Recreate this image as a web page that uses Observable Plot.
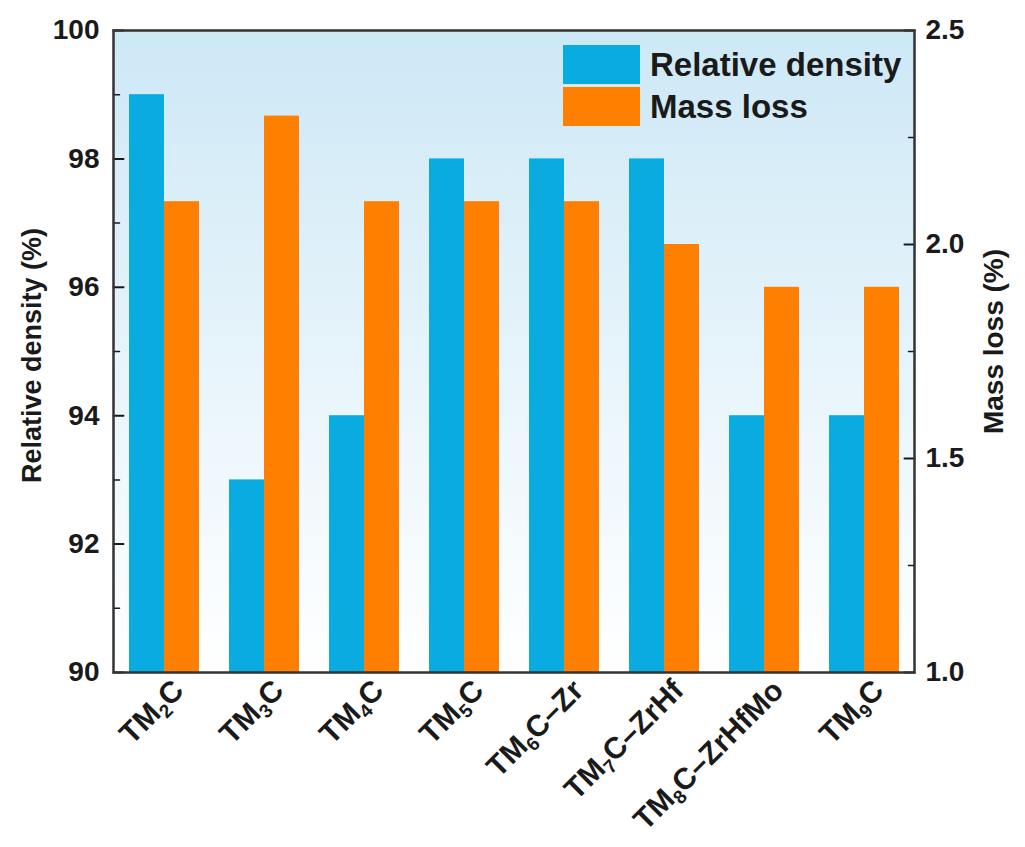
<!DOCTYPE html>
<html>
<head>
<meta charset="utf-8">
<script src="https://cdn.jsdelivr.net/npm/d3@7"></script>
<script src="https://cdn.jsdelivr.net/npm/@observablehq/plot@0.6"></script>
<style>
  html, body { margin: 0; padding: 0; background: #fff; }
  #wrap { position: relative; width: 1025px; height: 847px; font-family: "Liberation Sans", Arial, sans-serif; font-weight: bold; color: #1a1a1a; }
  .legend { position: absolute; left: 563px; top: 43px; }
  .legend .row { display: flex; align-items: center; height: 42px; }
  .legend .sw { width: 77px; height: 39px; margin-right: 10px; }
  .legend .lab { font-size: 33px; line-height: 1; }
</style>
</head>
<body>
<div id="wrap"></div>
<script>
// ---- data ----
const categories = ["TM₂C", "TM₃C", "TM₄C", "TM₅C", "TM₆C–Zr", "TM₇C–ZrHf", "TM₈C–ZrHfMo", "TM₉C"];
const relativeDensity = [99, 93, 94, 98, 98, 98, 94, 94];
const massLoss = [2.1, 2.3, 2.1, 2.1, 2.1, 2.0, 1.9, 1.9];
const leftMajorTicks = [90, 92, 94, 96, 98, 100];
const leftMinorTicks = [91, 93, 95, 97, 99];
const rightMajorTicks = [1.0, 1.5, 2.0, 2.5];
const rightMinorTicks = [1.25, 1.75, 2.25];
const seriesNames = ["Relative density", "Mass loss"];
const seriesColors = ["#0aabe1", "#ff7f00"];
const leftDomain = [90, 100];
const rightDomain = [1.0, 2.5];

// map right-axis values onto left scale
const toLeft = v => leftDomain[0] + (v - rightDomain[0]) / (rightDomain[1] - rightDomain[0]) * (leftDomain[1] - leftDomain[0]);
const fromLeft = v => rightDomain[0] + (v - leftDomain[0]) / (leftDomain[1] - leftDomain[0]) * (rightDomain[1] - rightDomain[0]);

const densityRows = categories.map((c, i) => ({cat: c, value: relativeDensity[i]}));
const massRows = categories.map((c, i) => ({cat: c, value: toLeft(massLoss[i])}));

const tickShape = {draw(context, l) { context.moveTo(0, 0); context.lineTo(0, -l); }};
const ink = "#1a1a1a";

const chart = Plot.plot({
  width: 1025,
  height: 847,
  marginLeft: 113,
  marginRight: 111,
  marginTop: 30,
  marginBottom: 175,
  style: {fontFamily: "'Liberation Sans', Arial, sans-serif", fontWeight: "bold", color: ink, background: "transparent", overflow: "visible"},
  x: {domain: categories, paddingInner: 0.3, paddingOuter: 0.15},
  y: {domain: leftDomain},
  marks: [
    Plot.frame({fill: "url(#bggrad)"}),
    Plot.barY(densityRows, {x: "cat", y1: leftDomain[0], y2: "value", fill: seriesColors[0], insetRight: 35}),
    Plot.barY(massRows, {x: "cat", y1: leftDomain[0], y2: "value", fill: seriesColors[1], insetLeft: 35}),
    // inward ticks
    Plot.vector(leftMajorTicks, {y: d => d, frameAnchor: "left", rotate: 90, length: 10, anchor: "start", shape: tickShape, stroke: ink, strokeWidth: 2}),
    Plot.vector(leftMinorTicks, {y: d => d, frameAnchor: "left", rotate: 90, length: 6, anchor: "start", shape: tickShape, stroke: ink, strokeWidth: 1.5}),
    Plot.vector(rightMajorTicks, {y: d => toLeft(d), frameAnchor: "right", rotate: -90, length: 10, anchor: "start", shape: tickShape, stroke: ink, strokeWidth: 2}),
    Plot.vector(rightMinorTicks, {y: d => toLeft(d), frameAnchor: "right", rotate: -90, length: 6, anchor: "start", shape: tickShape, stroke: ink, strokeWidth: 1.5}),
    // tick labels
    Plot.axisY({anchor: "left", ticks: leftMajorTicks, tickSize: 0, tickPadding: 14, fontSize: 28, label: null}),
    Plot.axisY({anchor: "right", ticks: rightMajorTicks.map(toLeft), tickFormat: v => d3.format(".1f")(fromLeft(v)), tickSize: 0, tickPadding: 11, fontSize: 28, label: null}),
    Plot.axisX({tickRotate: -45, tickSize: 0, tickPadding: 13, dx: 14, fontSize: 30, label: null}),
    // axis titles
    Plot.text(["Relative density (%)"], {text: d => d, frameAnchor: "left", textAnchor: "middle", dx: -81, dy: 4, rotate: -90, fontSize: 27, fill: ink}),
    Plot.text(["Mass loss (%)"], {text: d => d, frameAnchor: "right", textAnchor: "middle", dx: 80, dy: -10, rotate: -90, fontSize: 28, fill: ink}),
    Plot.frame({stroke: "#333", strokeWidth: 2.5})
  ]
});

const svg = d3.select(chart);

// gradient background for the plot area
const grad = svg.insert("defs", ":first-child").append("linearGradient")
  .attr("id", "bggrad").attr("x1", 0).attr("y1", 0).attr("x2", 0).attr("y2", 1);
grad.append("stop").attr("offset", "0%").attr("stop-color", "#cde8f6");
grad.append("stop").attr("offset", "100%").attr("stop-color", "#ffffff");

// render subscript digits as smaller, lowered tspans
svg.selectAll('g[aria-label="x-axis tick label"] text').each(function () {
  const t = this.textContent;
  const m = t.match(/^(.*?)([\u2080-\u2089])(.*)$/);
  if (!m) return;
  const el = d3.select(this);
  el.text(null);
  el.append("tspan").text(m[1]);
  el.append("tspan").attr("font-size", "19").attr("dy", "6")
    .text(String.fromCharCode(m[2].charCodeAt(0) - 0x2080 + 48));
  el.append("tspan").attr("dy", "-6").text(m[3]);
});

const wrap = document.getElementById("wrap");
wrap.appendChild(chart);

// legend
const legend = document.createElement("div");
legend.className = "legend";
seriesNames.forEach((name, i) => {
  const row = document.createElement("div");
  row.className = "row";
  const sw = document.createElement("div");
  sw.className = "sw";
  sw.style.background = seriesColors[i];
  const lab = document.createElement("span");
  lab.className = "lab";
  lab.textContent = name;
  row.appendChild(sw);
  row.appendChild(lab);
  legend.appendChild(row);
});
wrap.appendChild(legend);
</script>
</body>
</html>
